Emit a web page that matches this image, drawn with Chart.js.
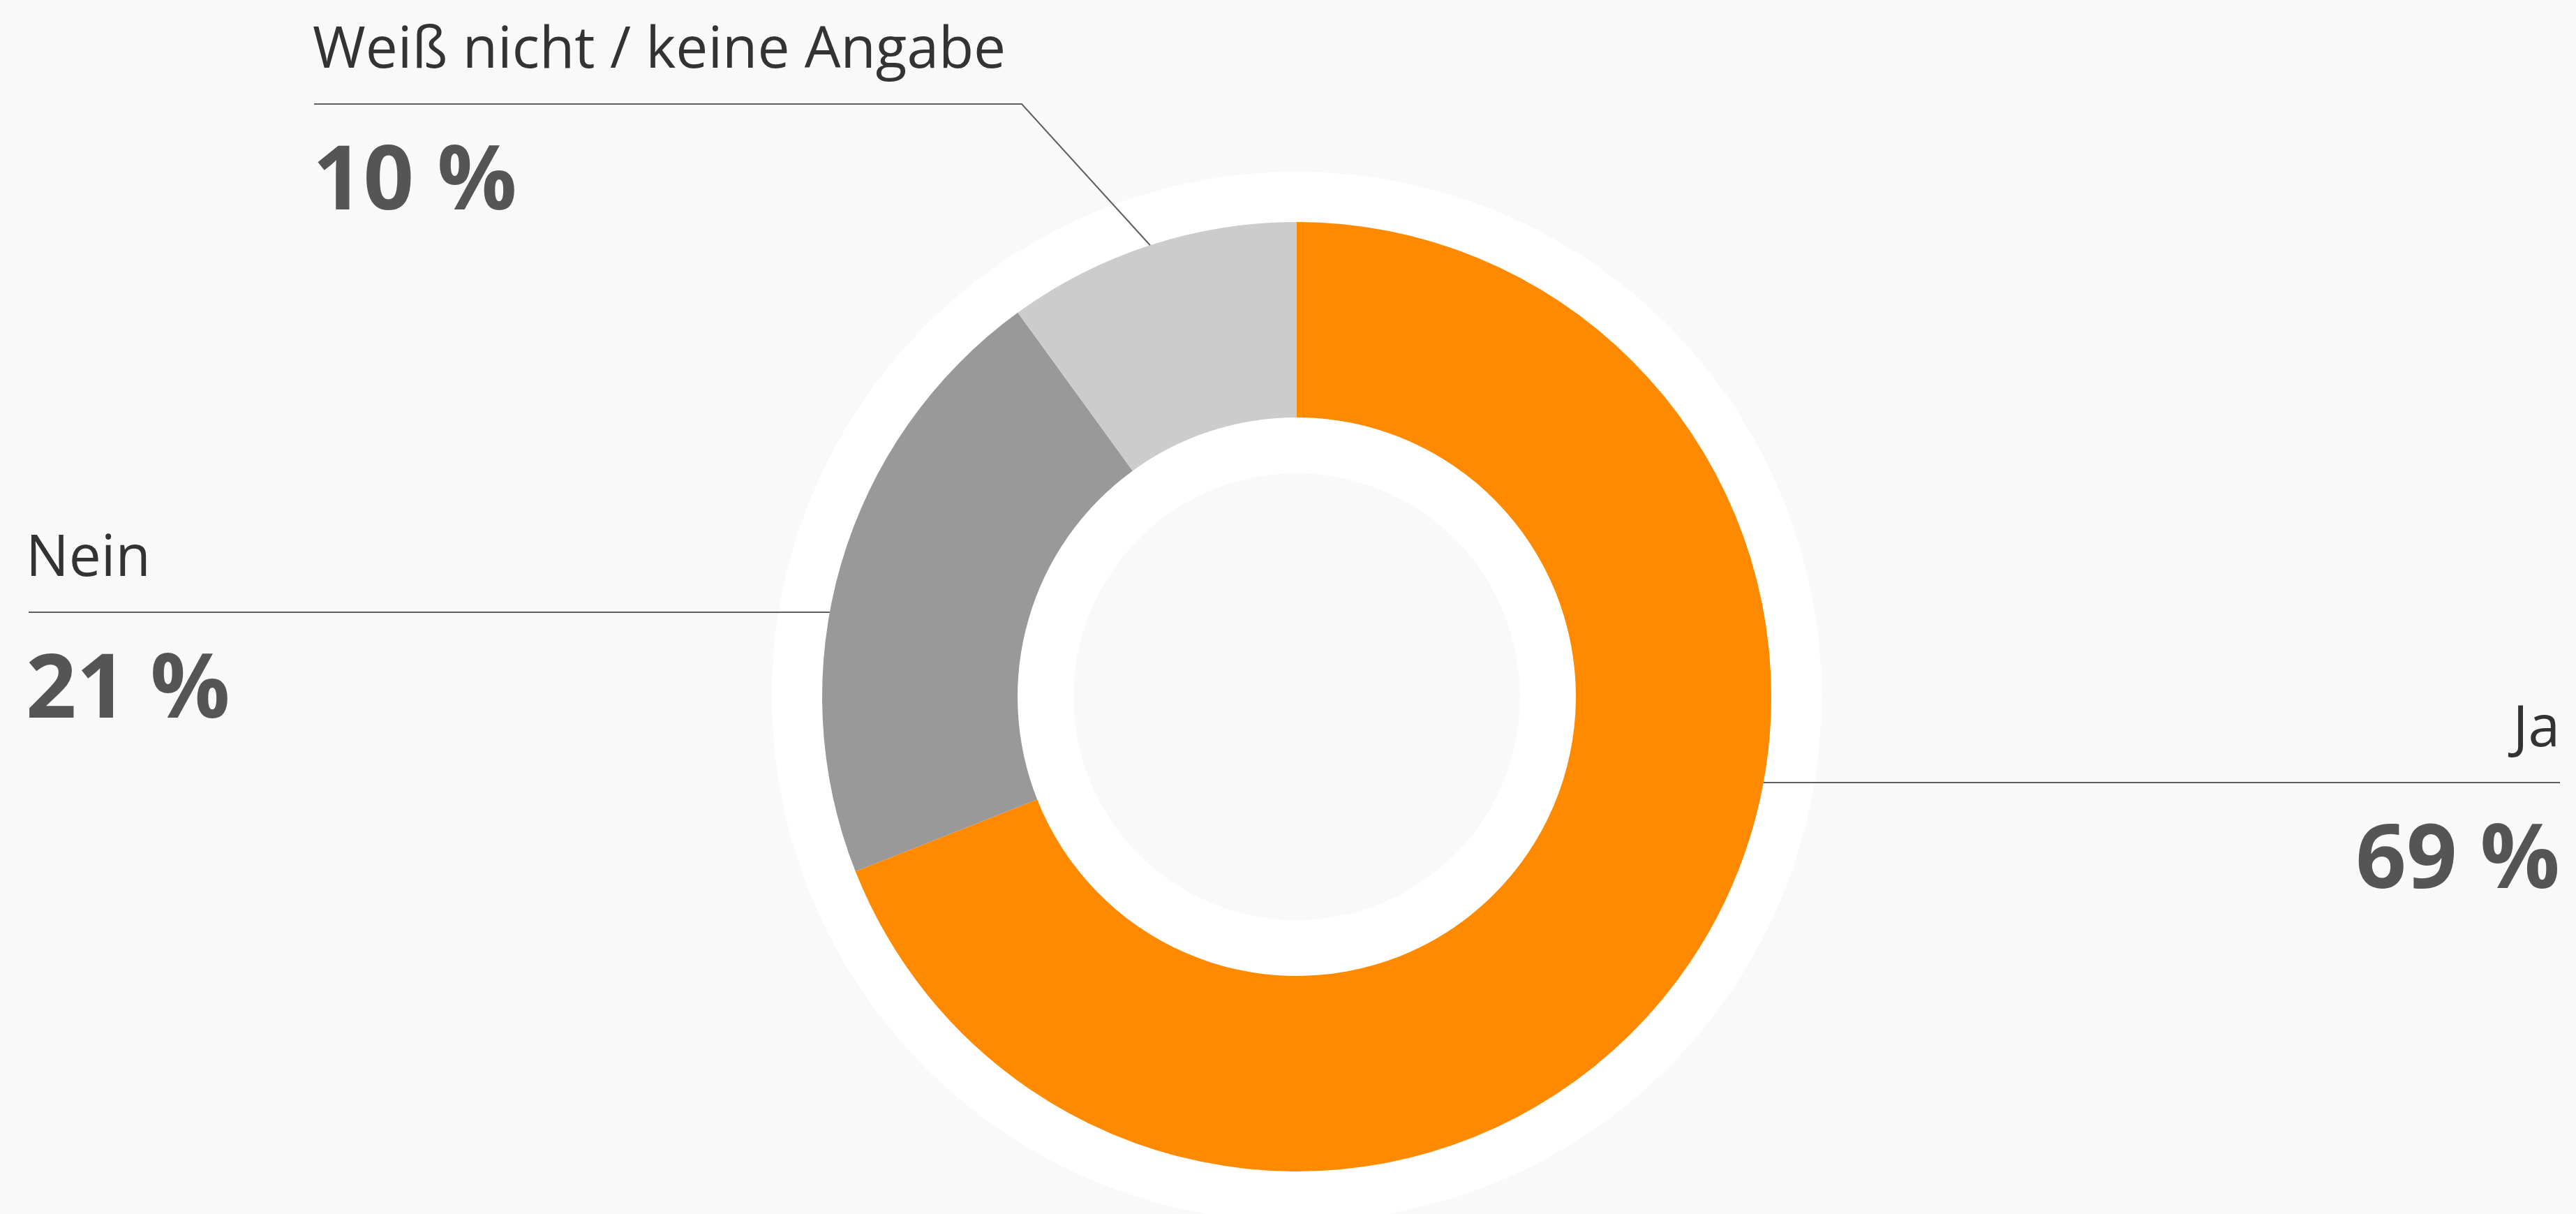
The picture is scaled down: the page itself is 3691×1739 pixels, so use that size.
<!DOCTYPE html>
<html>
<head>
<meta charset="utf-8">
<script src="https://cdn.jsdelivr.net/npm/chart.js@4/dist/chart.umd.min.js"></script>
<style>
  html, body { margin: 0; padding: 0; background: #f9f9f9; overflow: hidden; }
  #wrap { width: 3691px; height: 1739px; }
</style>
</head>
<body>
<div id="wrap"><canvas id="c" width="3691" height="1739"></canvas></div>
<script>
// ---- data ----
const categories = ['Ja', 'Nein', 'Weiß nicht / keine Angabe'];
const shares = [69, 21, 10];
const valueLabels = ['69 %', '21 %', '10 %'];
const sliceColors = ['#FF8A00', '#999999', '#CCCCCC'];

// ---- label layout (positions relative to chart centre / canvas) ----
const labelLayout = [
  { side: 'right', lineDy: 123, textX: 3668, lineEndX: 3668 },
  { side: 'left',  lineDy: -121, textX: 37, lineStartX: 41 },
  { side: 'left',  lineDy: -849, textX: 448, lineStartX: 450, elbowX: 1464, toMid: true }
];

const BG = '#f9f9f9';

const ringPlugin = {
  id: 'ring',
  beforeDatasetsDraw(chart) {
    const arc = chart.getDatasetMeta(0).data[0];
    if (!arc) return;
    const ctx = chart.ctx;
    const cx = arc.x, cy = arc.y, R = arc.outerRadius, r = arc.innerRadius;
    ctx.save();
    ctx.fillStyle = '#ffffff';
    ctx.beginPath(); ctx.arc(cx, cy, R + 72, 0, Math.PI * 2); ctx.fill();
    ctx.fillStyle = BG;
    ctx.beginPath(); ctx.arc(cx, cy, r - 80, 0, Math.PI * 2); ctx.fill();
    ctx.restore();
  }
};

const labelPlugin = {
  id: 'labels',
  afterDatasetsDraw(chart) {
    const meta = chart.getDatasetMeta(0);
    const ctx = chart.ctx;
    ctx.save();
    meta.data.forEach((arc, i) => {
      const L = labelLayout[i];
      const cx = arc.x, cy = arc.y, R = arc.outerRadius;
      const ly = cy + L.lineDy;
      ctx.strokeStyle = '#5f5f5f';
      ctx.lineWidth = 2;
      ctx.beginPath();
      if (L.toMid) {
        const mid = (arc.startAngle + arc.endAngle) / 2;
        const px = cx + Math.cos(mid) * R, py = cy + Math.sin(mid) * R;
        ctx.moveTo(L.lineStartX, ly);
        ctx.lineTo(L.elbowX, ly);
        ctx.lineTo(px, py);
      } else {
        const dx = Math.sqrt(Math.max(0, R * R - L.lineDy * L.lineDy));
        if (L.side === 'right') {
          ctx.moveTo(cx + dx, ly);
          ctx.lineTo(L.lineEndX, ly);
        } else {
          ctx.moveTo(L.lineStartX, ly);
          ctx.lineTo(cx - dx, ly);
        }
      }
      ctx.stroke();

      ctx.textAlign = L.side === 'right' ? 'right' : 'left';
      ctx.textBaseline = 'alphabetic';
      ctx.fillStyle = '#333333';
      ctx.font = '400 82px "Open Sans"';
      ctx.fillText(chart.data.labels[i], L.textX, ly - 52);
      ctx.fillStyle = '#555555';
      ctx.font = '700 127px "Open Sans"';
      ctx.fillText(valueLabels[i], L.textX, ly + 151);
    });
    ctx.restore();
  }
};

new Chart(document.getElementById('c'), {
  type: 'doughnut',
  data: {
    labels: categories,
    datasets: [{
      data: shares,
      backgroundColor: sliceColors,
      borderWidth: 0,
      radius: 680,
      cutout: '58.82%'
    }]
  },
  options: {
    responsive: false,
    animation: false,
    devicePixelRatio: 1,
    layout: { padding: { top: 257, left: 25, right: 0, bottom: 0 } },
    plugins: { legend: { display: false }, tooltip: { enabled: false } }
  },
  plugins: [ringPlugin, labelPlugin]
});
</script>
</body>
</html>
